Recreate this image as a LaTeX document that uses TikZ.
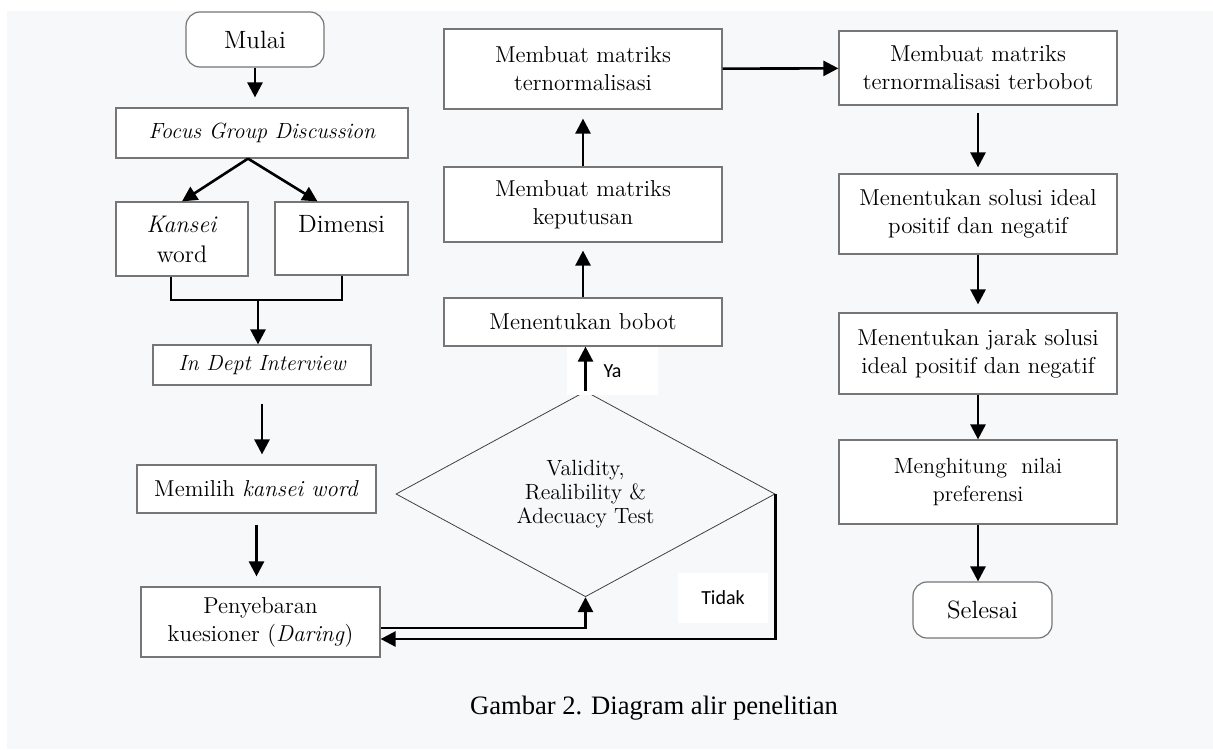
\documentclass[tikz,border=0pt]{standalone}
\usepackage{fontspec}
\newfontfamily\capfont{Liberation Serif}
\newfontfamily\labfont{Carlito}
\usetikzlibrary{shapes.geometric,arrows.meta}
\definecolor{panel}{RGB}{247,248,250}
\definecolor{edge}{RGB}{118,118,118}

\begin{document}
\begin{tikzpicture}[x=0.5pt,y=-0.5pt,
	box/.style={draw=edge,line width=0.6pt,fill=white,align=center,inner sep=2pt,font=\fontsize{11.5}{14}\selectfont},
	term/.style={box,rounded corners=7pt,font=\fontsize{12.5}{15}\selectfont},
	decision/.style={diamond,draw=black!75,line width=0.4pt,inner sep=0pt,align=center,font=\fontsize{11}{12}\selectfont},
	flow/.style={line width=1.3pt,-{Triangle[length=7.5pt,width=7.5pt]}},
	tag/.style={fill=white,font=\labfont\fontsize{10}{12}\selectfont}]
	\fill[white] (0,0) rectangle (1213,749);
	\fill[panel] (7,11) rectangle (1213,749);
	\useasboundingbox (0,0) rectangle (1213,749);

	\node[term,minimum width=69pt,minimum height=27.5pt] (mulai) at (255,39.5) {Mulai};
	\node[box,minimum width=146pt,minimum height=25pt,font=\itshape\fontsize{11}{13}\selectfont] (fgd) at (262,133) {Focus Group Discussion};
	\node[box,minimum width=66pt,minimum height=37pt,font=\fontsize{12}{15}\selectfont] (kansei) at (182,239) {\textit{Kansei}\\word};
	\node[box,minimum width=66.5pt,minimum height=36.5pt,font=\fontsize{12.5}{15}\selectfont] (dimensi) at (341.5,238.5) {Dimensi\\~};
	\node[box,minimum width=109pt,minimum height=20pt,font=\itshape\fontsize{11}{13}\selectfont] (interview) at (262,365) {In Dept Interview};
	\node[box,minimum width=119.5pt,minimum height=24pt] (memilih) at (256.5,489) {Memilih \textit{kansei word}};
	\node[box,minimum width=119.5pt,minimum height=35pt] (sebar) at (260.5,622) {Penyebaran\\kuesioner (\textit{Daring})};
	\node[decision,minimum width=189.5pt,minimum height=98pt] (uji) at (585.5,494) {Validity,\\Realibility \&\\Adecuacy Test};
	\node[box,minimum width=139pt,minimum height=24pt] (bobot) at (583,322) {Menentukan bobot};
	\node[box,minimum width=139pt,minimum height=37.5pt] (keputusan) at (583,204.5) {Membuat matriks\\keputusan};
	\node[box,minimum width=139pt,minimum height=40pt] (normal) at (583,69) {Membuat matriks\\ternormalisasi};
	\node[box,minimum width=139pt,minimum height=37pt] (terbobot) at (978,68) {Membuat matriks\\ternormalisasi terbobot};
	\node[box,minimum width=139pt,minimum height=40pt] (solusi) at (978,214) {Menentukan solusi ideal\\positif dan negatif};
	\node[box,minimum width=139pt,minimum height=40.5pt] (jarak) at (978,353.5) {Menentukan jarak solusi\\ideal positif dan negatif};
	\node[box,minimum width=139pt,minimum height=42pt,font=\fontsize{11}{14}\selectfont] (hitung) at (978,482) {Menghitung\ \ nilai\\preferensi};
	\node[term,minimum width=69.5pt,minimum height=28pt] (selesai) at (982.5,610) {Selesai};
	\node[tag,minimum width=45.5pt,minimum height=24pt] (ya) at (612.5,371) {Ya};
	\node[tag,minimum width=45pt,minimum height=25pt] (tidak) at (723,598) {Tidak};
	\node[font=\capfont\fontsize{13.3}{16}\selectfont] (judul) at (654,708) {Gambar 2. Diagram alir penelitian};
	\coordinate (gabung) at (258,300);

	\draw[flow,shorten >=5pt] (mulai) -- (mulai |- fgd.north);
	\draw[flow] ([xshift=-7pt]fgd.south) -- (kansei.north);
	\draw[flow] ([xshift=-7pt]fgd.south) -- ([xshift=-12pt]dimensi.north);
	\draw[line width=1pt] ([xshift=-5.5pt]kansei.south) |- (gabung) -| (dimensi.south);
	\draw[flow] (gabung) -- (gabung |- interview.north);
	\draw[flow,shorten <=9pt,shorten >=5pt] (interview.south) -- (interview.south |- memilih.north);
	\draw[flow,shorten <=5.5pt,shorten >=5pt] (memilih.south) -- (memilih.south |- sebar.north);
	\draw[flow] ([yshift=-3pt]sebar.east) -| (uji.south);
	\draw[flow] (uji.east) |- ([yshift=-8.5pt]sebar.east);
	\draw[flow] (uji.north) -- (uji.north |- bobot.south);
	\draw[flow,shorten >=4pt] (bobot) -- (keputusan);
	\draw[flow,shorten >=4.5pt] (keputusan) -- (normal);
	\draw[flow] (normal) -- (terbobot);
	\draw[flow,shorten <=3.5pt,shorten >=3pt] (terbobot) -- (solusi);
	\draw[flow,shorten >=4pt] (solusi) -- (jarak);
	\draw[flow] (jarak) -- (hitung);
	\draw[flow] (hitung.south) -- (hitung.south |- selesai.north);
\end{tikzpicture}
\end{document}
